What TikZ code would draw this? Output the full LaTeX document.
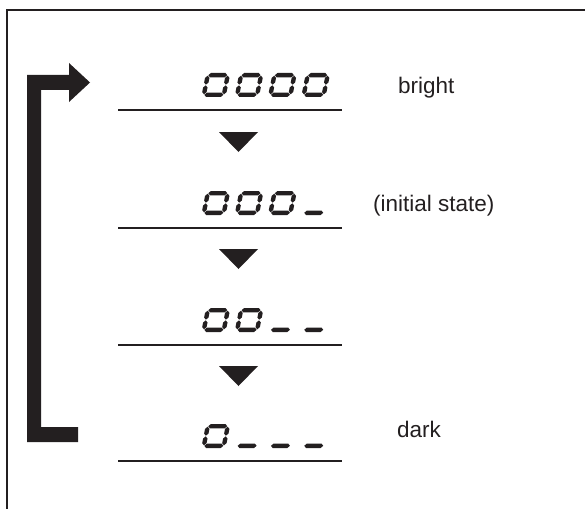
\documentclass[tikz,border=0pt]{standalone}
\usepackage{fontspec}
\setmainfont{Liberation Sans}
\definecolor{ink}{HTML}{231F20}
\newcommand\hsegm[3]{\fill[ink] (#1,#3) -- (#1+2.2,#3+2.2) -- (#2-2.2,#3+2.2) -- (#2,#3) -- (#2-2.2,#3-2.2) -- (#1+2.2,#3-2.2) -- cycle;}
\newcommand\vsegm[3]{\fill[ink] (#1,#2) -- (#1+2.2,#2+2.2) -- (#1+2.2,#3-2.2) -- (#1,#3) -- (#1-2.2,#3-2.2) -- (#1-2.2,#2+2.2) -- cycle;}
\newcommand\digitzero{\hsegm{2.7}{21.7}{21.8}\hsegm{2.7}{21.7}{2.2}\vsegm{2.2}{2.7}{11.7}\vsegm{2.2}{12.3}{21.3}\vsegm{22.2}{2.7}{11.7}\vsegm{22.2}{12.3}{21.3}}
\newcommand\digitblank{\hsegm{2.7}{21.7}{2.2}}
\newcommand\lcd[3]{\begin{scope}[shift={(#1,#2)},xslant=0.2,x=1pt,y=1pt]#3\end{scope}}
\begin{document}
\begin{tikzpicture}[x=1pt,y=-1pt,
  lbl/.style={anchor=base west, inner sep=0pt, font=\fontsize{22.5}{27}\selectfont, text=ink},
  uline/.style={draw=ink, line width=2.5pt},
  tri/.style={fill=ink}]
\useasboundingbox (0,0) rectangle (585,508);
% frame
\draw[ink, line width=2pt] (7,515) -- (7,10) -- (592,10);
% loop arrow
\fill[ink] (78,442) -- (27,442) -- (27,75) -- (69,75) -- (69,63) -- (90,82.5) -- (69,102) -- (69,90) -- (41,90) -- (41,427) -- (78,427) -- cycle;
% underlines
\foreach \yy/\nm in {110/u1,228/u2,345/u3,461/u4}{
  \coordinate (\nm a) at (118,\yy);
  \coordinate (\nm b) at (342,\yy);
  \draw[uline] (\nm a) -- (\nm b);
}
% triangles
\foreach \yy in {132,249,366}{
  \fill[ink] (219,\yy) -- (258,\yy) -- (238.5,\yy+20) -- cycle;
}
% digits
\lcd{201.2}{97}{\digitzero}\lcd{234.5}{97}{\digitzero}\lcd{267.8}{97}{\digitzero}\lcd{301.1}{97}{\digitzero}
\lcd{201.2}{215}{\digitzero}\lcd{234.5}{215}{\digitzero}\lcd{267.8}{215}{\digitzero}\lcd{301.1}{215}{\digitblank}
\lcd{201.2}{332}{\digitzero}\lcd{234.5}{332}{\digitzero}\lcd{267.8}{332}{\digitblank}\lcd{301.1}{332}{\digitblank}
\lcd{201.2}{448}{\digitzero}\lcd{234.5}{448}{\digitblank}\lcd{267.8}{448}{\digitblank}\lcd{301.1}{448}{\digitblank}
% labels
\node[lbl] (bright) at (398,93) {bright};
\node[lbl] (init) at (373,211) {(initial state)};
\node[lbl] (dark) at (397,437) {dark};
\end{tikzpicture}
\end{document}
